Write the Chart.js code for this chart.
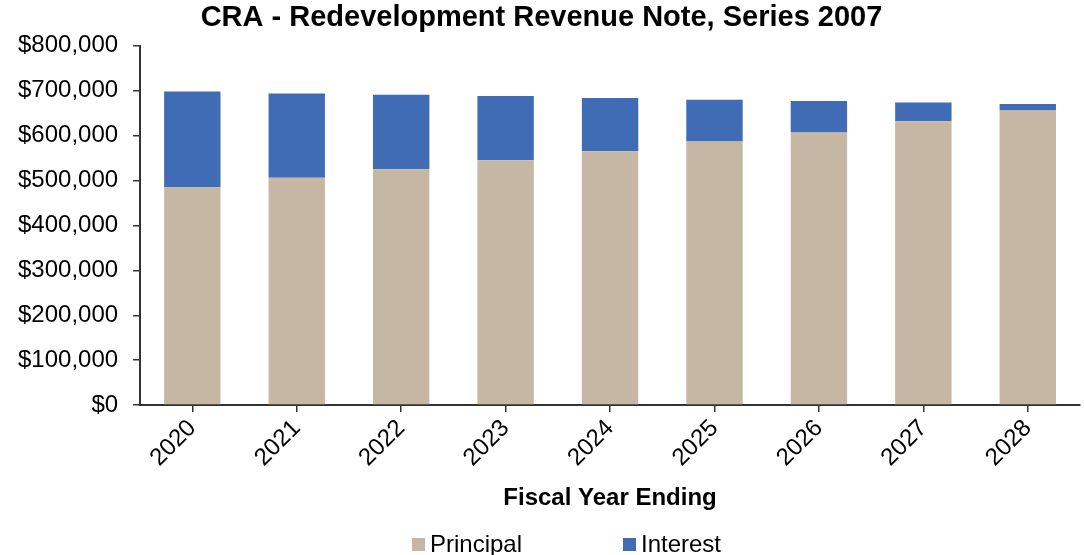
<!DOCTYPE html>
<html>
<head>
<meta charset="utf-8">
<script src="https://cdn.jsdelivr.net/npm/chart.js@4/dist/chart.umd.min.js"></script>
<style>
  html, body { margin: 0; padding: 0; background: #fff; }
  .wrap { position: relative; width: 1084px; height: 555px; }
  #legend {
    position: absolute; left: 412px; top: 531px; height: 26px;
    font-family: "Liberation Sans", Arial, sans-serif; font-size: 24px; color: #000;
    display: flex; align-items: center;
  }
  #legend .item { display: flex; align-items: center; }
  #legend .item:first-child { width: 211px; }
  #legend .box { width: 13px; height: 13px; margin-right: 5px; }
</style>
</head>
<body>
<div class="wrap">
  <canvas id="myChart" width="1084" height="555"></canvas>
  <div id="legend"></div>
</div>
<script>
const years = ['2020', '2021', '2022', '2023', '2024', '2025', '2026', '2027', '2028'];
const principal = [485000, 506000, 525000, 545000, 565000, 587000, 607000, 632000, 656000];
const interest = [213000, 188000, 166000, 143000, 119000, 93000, 70000, 41500, 14500];
const yTicks = [0, 100000, 200000, 300000, 400000, 500000, 600000, 700000, 800000];

const principalColor = 'rgb(197, 183, 164)';
const interestColor = 'rgb(63, 108, 180)';
const fontFamily = '"Liberation Sans", Arial, sans-serif';

const ctx = document.getElementById('myChart').getContext('2d');
const chart = new Chart(ctx, {
  type: 'bar',
  data: {
    labels: years,
    datasets: [{
      label: 'Principal',
      data: principal,
      backgroundColor: principalColor,
      categoryPercentage: 0.54,
      barPercentage: 1.0
    }, {
      label: 'Interest',
      data: interest,
      backgroundColor: interestColor,
      categoryPercentage: 0.54,
      barPercentage: 1.0
    }]
  },
  options: {
    responsive: false,
    animation: false,
    layout: { padding: { left: 3, right: 4, top: 0, bottom: 42 } },
    plugins: {
      legend: { display: false },
      tooltip: { enabled: false },
      title: {
        display: true,
        text: 'CRA - Redevelopment Revenue Note, Series 2007',
        color: '#000',
        font: { family: fontFamily, size: 29, weight: 'bold' },
        padding: { top: 1, bottom: 10 }
      }
    },
    scales: {
      x: {
        stacked: true,
        border: { display: true, color: '#333', width: 2 },
        grid: { display: true, drawOnChartArea: false, offset: false, tickLength: 7, color: '#333', lineWidth: 1.5 },
        ticks: {
          color: '#000', font: { family: fontFamily, size: 24 },
          minRotation: 45, maxRotation: 45, padding: 2
        },
        title: {
          display: true, text: 'Fiscal Year Ending', color: '#000',
          font: { family: fontFamily, size: 24, weight: 'bold' },
          padding: { top: 10, bottom: 0 }
        }
      },
      y: {
        stacked: true,
        min: 0, max: 800000,
        afterBuildTicks: axis => { axis.ticks = yTicks.map(v => ({ value: v })); },
        border: { display: true, color: '#333', width: 2 },
        grid: { display: true, drawOnChartArea: false, tickLength: 7, color: '#333', lineWidth: 1.5 },
        ticks: {
          color: '#000', font: { family: fontFamily, size: 24 }, padding: 15,
          callback: v => '$' + v.toLocaleString('en-US')
        }
      }
    }
  }
});

// legend below the chart, spaced like the original
const legendEl = document.getElementById('legend');
chart.data.datasets.forEach(ds => {
  const item = document.createElement('div');
  item.className = 'item';
  const box = document.createElement('span');
  box.className = 'box';
  box.style.background = ds.backgroundColor;
  const txt = document.createElement('span');
  txt.textContent = ds.label;
  item.appendChild(box);
  item.appendChild(txt);
  legendEl.appendChild(item);
});
</script>
</body>
</html>
